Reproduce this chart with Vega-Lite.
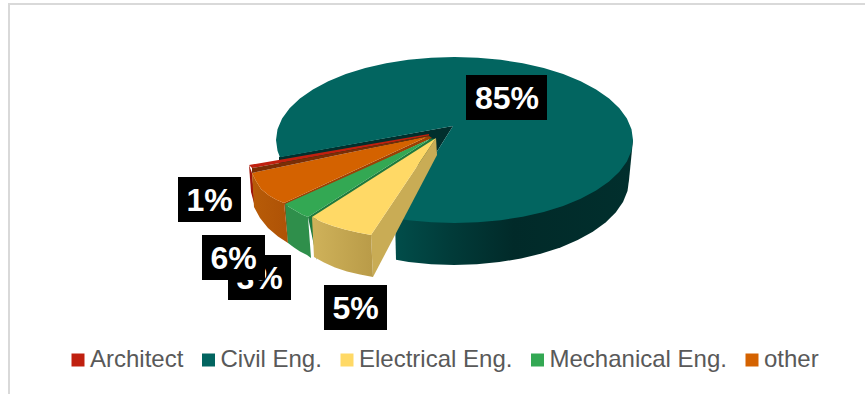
{
"$schema":"https://vega.github.io/schema/vega-lite/v6.json",
"width":865,"height":394,"padding":0,
"autosize":{"type":"none"},
"background":"#ffffff",
"view":{"stroke":null},
"projection":{"type":"identity"},
"config":{"text":{"font":"Liberation Sans"}},
"layer":[
{"data":{"values":[{"type":"Feature","properties":{"part":"canvas"},"geometry":{"type":"Polygon","coordinates":[[[0,0],[865,0],[865,394],[0,394],[0,0]]]}}]},
 "mark":{"type":"geoshape","filled":true,"fill":"#ffffff","stroke":null}},
{"data":{"values":[{"type":"Feature","properties":{"part":"frame"},"geometry":{"type":"LineString","coordinates":[[865,4],[9,4],[9,394]]}}]},
 "mark":{"type":"geoshape","filled":false,"stroke":"#D9D9D9","strokeWidth":2}},
{"data":{"values":[{"type":"Feature","properties":{"part":"Civil Eng. rim"},"geometry":{"type":"Polygon","coordinates":[[[395,218],[633,140],[629,180],[627.5,191.1],[623,202],[615.7,212.5],[605.6,222.5],[592.8,231.7],[577.7,240.1],[560.5,247.4],[541.5,253.6],[521,258.5],[499.3,262.1],[476.8,264.3],[454,265],[431.2,264.3],[408.7,262.1],[396,259.8],[395,218]]]}}]},
 "mark":{"type":"geoshape","filled":true,"stroke":null,"fill":{"gradient":"linear","x1":0,"y1":0,"x2":1,"y2":0,"stops":[{"offset":0,"color":"#014d4a"},{"offset":0.25,"color":"#013a38"},{"offset":0.5,"color":"#012a29"},{"offset":1,"color":"#012f2d"}]}}},
{"data":{"values":[{"type":"Feature","properties":{"part":"Civil Eng. inner wall"},"geometry":{"type":"Polygon","coordinates":[[[453,126],[279,157],[279,165],[430,137],[395,218],[453,126]]]}}]},
 "mark":{"type":"geoshape","filled":true,"stroke":null,"fill":"#012f2d"}},
{"data":{"values":[{"type":"Feature","properties":{"discipline":"Civil Eng.","share":0.85},"geometry":{"type":"Polygon","coordinates":[[[453,126],[279.9,157.3],[277.5,150.8],[276,140],[277.5,129.2],[282.1,118.5],[289.6,108.2],[299.9,98.5],[312.9,89.5],[328.3,81.3],[345.8,74.1],[365.3,68.1],[386.2,63.3],[408.3,59.8],[431.2,57.7],[454.5,57],[477.8,57.7],[500.7,59.8],[522.8,63.3],[543.8,68.1],[563.2,74.1],[580.7,81.3],[596.1,89.5],[609.1,98.5],[619.4,108.2],[626.9,118.5],[631.5,129.2],[633,140],[631.5,150.8],[626.9,161.5],[619.4,171.8],[609.1,181.5],[596.1,190.5],[580.7,198.7],[563.2,205.9],[543.8,211.9],[522.8,216.7],[500.7,220.2],[477.8,222.3],[454.5,223],[431.2,222.3],[408.3,220.2],[395,218.2],[453,126]]]}}]},
 "mark":{"type":"geoshape","filled":true,"stroke":null},
 "encoding":{"color":{"field":"properties.discipline","type":"nominal",
   "scale":{"domain":["Architect","Civil Eng.","Electrical Eng.","Mechanical Eng.","other"],"range":["#C0200F","#026560","#FFD966","#33A853","#D46200"]},
   "legend":{"title":null,"orient":"none","legendX":66,"legendY":348,"direction":"horizontal","columns":5,"symbolType":"square","symbolSize":169,"symbolStrokeWidth":0,"labelFont":"Liberation Sans","labelFontSize":24,"labelColor":"#595959","labelOffset":0,"columnPadding":12.5,"labelLimit":300,"labelExpr":"datum.label == 'Architect' ? 'Architect\u00a0\u00a0' : datum.label"}}}},
{"data":{"values":[{"type":"Feature","properties":{"part":"Architect rim"},"geometry":{"type":"Polygon","coordinates":[[[249,165],[252,173],[255,207],[251,192],[249,165]]]}}]},
 "mark":{"type":"geoshape","filled":true,"stroke":null,"fill":"#A0160A"}},
{"data":{"values":[{"type":"Feature","properties":{"part":"other rim"},"geometry":{"type":"Polygon","coordinates":[[[252,173],[256,181],[261,189],[269,195.5],[276,199.5],[284,203],[288,243],[278,236.5],[268,228],[260,218],[254,207],[252,173]]]}}]},
 "mark":{"type":"geoshape","filled":true,"stroke":null,"fill":{"gradient":"linear","x1":0,"y1":0,"x2":1,"y2":0,"stops":[{"offset":0,"color":"#B85C08"},{"offset":1,"color":"#AE5206"}]}}},
{"data":{"values":[{"type":"Feature","properties":{"part":"other inner wall"},"geometry":{"type":"Polygon","coordinates":[[[429,136],[432,138],[288,205],[288,243],[284,203],[429,136]]]}}]},
 "mark":{"type":"geoshape","filled":true,"stroke":null,"fill":"#9E4003"}},
{"data":{"values":[{"type":"Feature","properties":{"part":"Mechanical Eng. inner wall"},"geometry":{"type":"Polygon","coordinates":[[[431,138.5],[436,139],[317,217],[317,260],[308,217],[431,138.5]]]}}]},
 "mark":{"type":"geoshape","filled":true,"stroke":null,"fill":"#1F7A3E"}},
{"data":{"values":[{"type":"Feature","properties":{"part":"Mechanical Eng. rim"},"geometry":{"type":"Polygon","coordinates":[[[285,204],[290,207.5],[296,211],[302,214.5],[308,217],[311,258],[307,255],[300,251.5],[294,247.5],[288,243],[285,204]]]}}]},
 "mark":{"type":"geoshape","filled":true,"stroke":null,"fill":"#2F8F4B"}},
{"data":{"values":[{"type":"Feature","properties":{"part":"Electrical Eng. inner wall"},"geometry":{"type":"Polygon","coordinates":[[[436,138],[371,235],[373,277],[437,155],[436,138]]]}}]},
 "mark":{"type":"geoshape","filled":true,"stroke":null,"fill":"#C9AC55"}},
{"data":{"values":[{"type":"Feature","properties":{"part":"Electrical Eng. rim"},"geometry":{"type":"Polygon","coordinates":[[[312,217],[322,222],[333,226],[345,229.5],[358,232.5],[371,235],[373,277],[360,274.5],[347,271.5],[335,267.5],[324,262.5],[314,257],[312,217]]]}}]},
 "mark":{"type":"geoshape","filled":true,"stroke":null,"fill":{"gradient":"linear","x1":0,"y1":0,"x2":1,"y2":0,"stops":[{"offset":0,"color":"#CFB25A"},{"offset":1,"color":"#B99B48"}]}}},
{"data":{"values":[
 {"type":"Feature","properties":{"discipline":"Electrical Eng.","share":0.05},"geometry":{"type":"Polygon","coordinates":[[[436,138],[371,235],[358,232.5],[345,229.5],[333,226],[322,222],[312,217],[436,138]]]}},
 {"type":"Feature","properties":{"discipline":"Mechanical Eng.","share":0.03},"geometry":{"type":"Polygon","coordinates":[[[431,138.5],[308,217],[302,214.5],[296,211],[290,207.5],[285,204],[431,138.5]]]}},
 {"type":"Feature","properties":{"discipline":"other","share":0.06},"geometry":{"type":"Polygon","coordinates":[[[429,136],[284,203],[276,199.5],[269,195.5],[261,189],[256,181],[252,173],[429,136]]]}},
 {"type":"Feature","properties":{"discipline":"Architect","share":0.01},"geometry":{"type":"Polygon","coordinates":[[[249,165],[429,134],[429,135.5],[252,168],[249,165]]]}}
 ]},
 "mark":{"type":"geoshape","filled":true,"stroke":null},
 "encoding":{"color":{"field":"properties.discipline","type":"nominal"}}},
{"data":{"values":[{"type":"Feature","properties":{"part":"Architect inner wall"},"geometry":{"type":"Polygon","coordinates":[[[252,168],[429,135.5],[429,136],[252,173],[252,168]]]}}]},
 "mark":{"type":"geoshape","filled":true,"stroke":null,"fill":"#7A2E05"}},
{"data":{"values":[
 {"type":"Feature","properties":{"share":0.85},"geometry":{"type":"Polygon","coordinates":[[[466,75],[547,75],[547,120],[466,120],[466,75]]]}},
 {"type":"Feature","properties":{"share":0.01},"geometry":{"type":"Polygon","coordinates":[[[178,177],[241,177],[241,222],[178,222],[178,177]]]}},
 {"type":"Feature","properties":{"share":0.03},"geometry":{"type":"Polygon","coordinates":[[[228,255],[291,255],[291,300],[228,300],[228,255]]]}},
 {"type":"Feature","properties":{"share":0.05},"geometry":{"type":"Polygon","coordinates":[[[324,285],[387,285],[387,330],[324,330],[324,285]]]}}
 ]},
 "mark":{"type":"geoshape","filled":true,"fill":"#000000","stroke":null}},
{"data":{"values":[
 {"share":0.85,"cx":507,"cy":99},
 {"share":0.01,"cx":209.5,"cy":201},
 {"share":0.03,"cx":259.5,"cy":279},
 {"share":0.05,"cx":355.5,"cy":309}
 ]},
 "mark":{"type":"text","fontSize":32,"fontWeight":"bold","font":"Liberation Sans","color":"#ffffff","align":"center","baseline":"middle"},
 "encoding":{"longitude":{"field":"cx","type":"quantitative"},"latitude":{"field":"cy","type":"quantitative"},"text":{"field":"share","type":"quantitative","format":".0%"}}},
{"data":{"values":[
 {"type":"Feature","properties":{"share":0.06},"geometry":{"type":"Polygon","coordinates":[[[202,235],[265,235],[265,280],[202,280],[202,235]]]}}
 ]},
 "mark":{"type":"geoshape","filled":true,"fill":"#000000","stroke":null}},
{"data":{"values":[{"share":0.06,"cx":233.5,"cy":259}]},
 "mark":{"type":"text","fontSize":32,"fontWeight":"bold","font":"Liberation Sans","color":"#ffffff","align":"center","baseline":"middle"},
 "encoding":{"longitude":{"field":"cx","type":"quantitative"},"latitude":{"field":"cy","type":"quantitative"},"text":{"field":"share","type":"quantitative","format":".0%"}}}
],
"resolve":{"scale":{"color":"shared"}}
}
